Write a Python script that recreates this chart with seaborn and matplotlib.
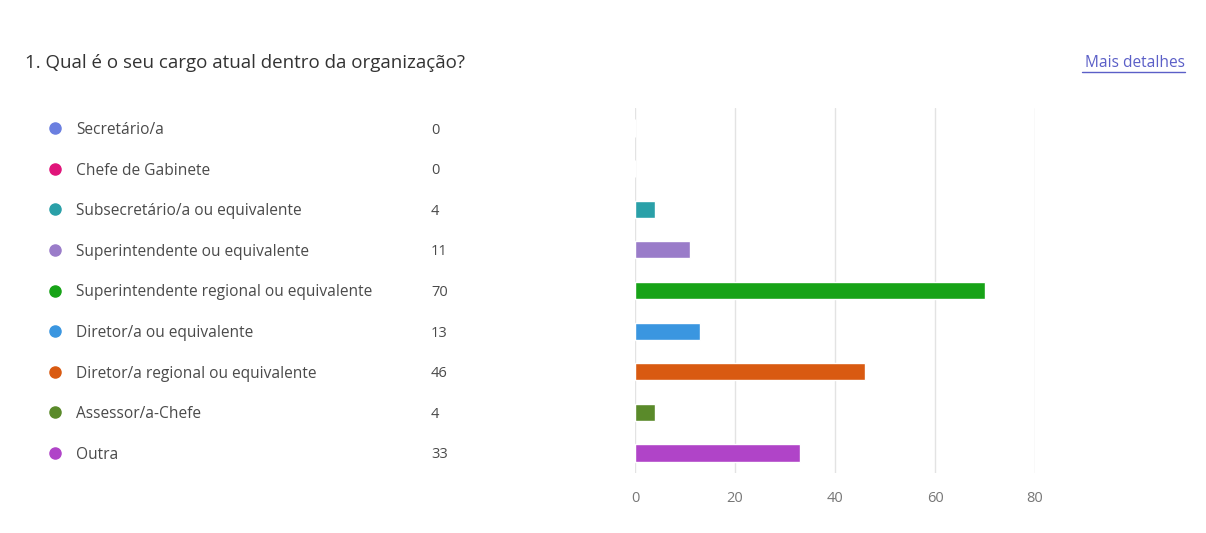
import matplotlib
matplotlib.use("Agg")
import matplotlib.pyplot as plt
import matplotlib.transforms as mtransforms
import seaborn as sns
import pandas as pd

# Survey answers: "Qual é o seu cargo atual dentro da organização?"
categories = [
    "Secretário/a",
    "Chefe de Gabinete",
    "Subsecretário/a ou equivalente",
    "Superintendente ou equivalente",
    "Superintendente regional ou equivalente",
    "Diretor/a ou equivalente",
    "Diretor/a regional ou equivalente",
    "Assessor/a-Chefe",
    "Outra",
]
counts = [0, 0, 4, 11, 70, 13, 46, 4, 33]
colors = [
    "#6b7fe0", "#e0147a", "#2aa0a8", "#9a7cc9", "#17a317",
    "#3a96e0", "#d95a11", "#5a8a2a", "#b044c8",
]
x_ticks = [0, 20, 40, 60, 80]

sns.set_theme(style="white")
plt.rcParams["font.family"] = ["Open Sans", "DejaVu Sans"]

df = pd.DataFrame({"cargo": categories, "n": counts})

fig = plt.figure(figsize=(12.06, 5.33), dpi=100)
ax = fig.add_axes([635 / 1206, 1 - 473.3 / 533, 400 / 1206, 365.6 / 533])

sns.barplot(
    data=df, y="cargo", x="n", hue="cargo", order=categories,
    hue_order=categories, palette=colors, orient="h", width=0.42,
    legend=False, ax=ax, saturation=1,
)

ax.set_xlim(0, 80)
ax.set_ylim(len(categories) - 0.5, -0.5)
ax.set_xticks(x_ticks)
ax.set_xticklabels([str(t) for t in x_ticks], color="#777777", fontsize=10.5)
ax.tick_params(axis="x", length=0, pad=13)
ax.set_yticks([])
ax.set_xlabel("")
ax.set_ylabel("")
for s in ax.spines.values():
    s.set_visible(False)
ax.grid(axis="x", color="#e3e3e3", linewidth=1)
ax.set_axisbelow(True)

# Legend rows: dot, label and count aligned with each bar
blend = mtransforms.blended_transform_factory(fig.transFigure, ax.transData)
for i, (cat, n, c) in enumerate(zip(categories, counts, colors)):
    ax.plot([55 / 1206], [i], marker="o", markersize=8, color=c,
            transform=blend, clip_on=False, linestyle="none")
    ax.text(76 / 1206, i, cat, transform=blend, va="center_baseline", ha="left",
            fontsize=11.2, color="#4a4a4a")
    ax.text(431 / 1206, i, str(n), transform=blend, va="center_baseline", ha="left",
            fontsize=10.5, color="#4a4a4a")

fig.text(25 / 1206, 1 - 61 / 533, "1. Qual é o seu cargo atual dentro da organização?",
         fontsize=13.5, color="#333333", va="center_baseline", ha="left")
fig.text(1185 / 1206, 1 - 61 / 533, "Mais detalhes", fontsize=11.2,
         color="#5b5fc7", va="center_baseline", ha="right")
fig.add_artist(plt.Line2D([1082 / 1206, 1185 / 1206], [1 - 72 / 533, 1 - 72 / 533],
                          color="#5b5fc7", linewidth=1, transform=fig.transFigure))

fig.savefig("out.png", dpi=100, facecolor="white")
